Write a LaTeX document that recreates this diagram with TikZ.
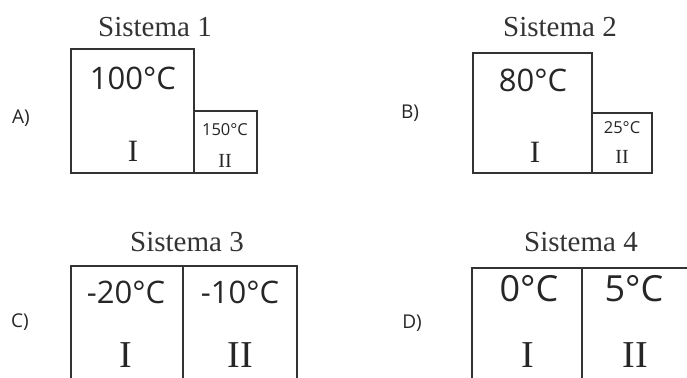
\documentclass[tikz,border=0pt]{standalone}
\usepackage{fontspec}
\setmainfont{Liberation Serif}
\setsansfont{Open Sans}
\begin{document}
\begin{tikzpicture}[x=1pt,y=-1pt,
    box/.style={line width=1.3pt, draw=black!80},
    title/.style={inner sep=0pt, text=black!80, font=\fontsize{29}{32}\selectfont},
    letter/.style={inner sep=0pt, text=black!85, font=\sffamily\fontsize{19}{22}\selectfont},
    temp/.style={inner sep=0pt, text=black!85, font=\sffamily\fontsize{#1}{#1}\selectfont},
    roman/.style={inner sep=0pt, text=black!85, font=\fontsize{#1}{#1}\selectfont}]
    \useasboundingbox (0,0) rectangle (687,377);
    \clip (0,0) rectangle (687,377);

    % Sistema 1
    \node[title] (t1) at (155,27) {Sistema 1};
    \node[letter] (la) at (21,118) {A)};
    \draw[box] (71,49) rectangle (194,173);
    \draw[box] (194,111) rectangle (257,173);
    \node[temp=31] (s1a) at (133,78) {100°C};
    \node[roman=31] (s1i) at (133,151) {I};
    \node[temp=16.5] (s1b) at (225,130) {150°C};
    \node[roman=20] (s1ii) at (225,161) {II};

    % Sistema 2
    \node[title] (t2) at (560,27) {Sistema 2};
    \node[letter] (lb) at (410,113) {B)};
    \draw[box] (473,53) rectangle (592,173);
    \draw[box] (592,113) rectangle (652,173);
    \node[temp=31] (s2a) at (533,80) {80°C};
    \node[roman=31] (s2i) at (535,152) {I};
    \node[temp=16.5] (s2b) at (622,128) {25°C};
    \node[roman=20] (s2ii) at (622,157) {II};

    % Sistema 3
    \node[title] (t3) at (187,242) {Sistema 3};
    \node[letter] (lc) at (20,322) {C)};
    \draw[box] (71,380) -- (71,266) -- (297,266) -- (297,380);
    \draw[box] (183,266) -- (183,380);
    \node[temp=31] (s3a) at (126,292) {-20°C};
    \node[temp=31] (s3b) at (240,292) {-10°C};
    \node[roman=38] (s3i) at (126,355) {I};
    \node[roman=38] (s3ii) at (240,355) {II};

    % Sistema 4
    \node[title] (t4) at (581,242) {Sistema 4};
    \node[letter] (ld) at (412,323) {D)};
    \draw[box] (472,380) -- (472,268) -- (690,268);
    \draw[box] (582,268) -- (582,380);
    \node[temp=36] (s4a) at (529,289) {0°C};
    \node[temp=36] (s4b) at (634,289) {5°C};
    \node[roman=38] (s4i) at (528,355) {I};
    \node[roman=38] (s4ii) at (635,355) {II};
\end{tikzpicture}
\end{document}
